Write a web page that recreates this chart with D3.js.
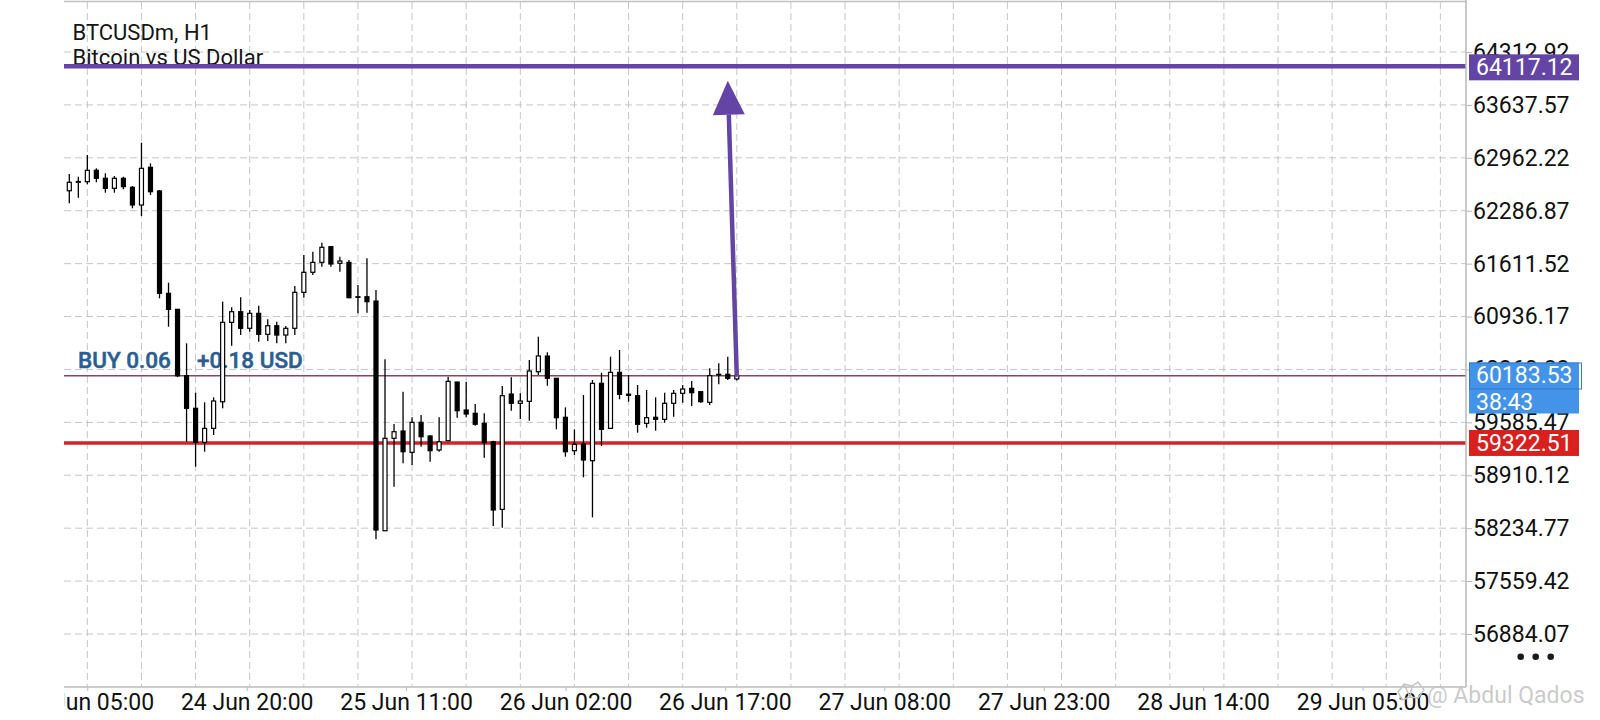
<!DOCTYPE html>
<html>
<head>
    <meta charset="utf-8">
    <title>BTCUSDm, H1</title>
    <script src="https://cdnjs.cloudflare.com/ajax/libs/d3/7.8.5/d3.min.js"></script>
    <style>
        body { margin: 0; background: #fff; }
        svg { display: block; font-family: Roboto, "Noto Sans", sans-serif; }
    </style>
</head>
<body>
    <div id="chart"></div>
    <script>
        // H1 candles, oldest first
        const opens = [62542, 62650, 62657, 62803, 62701, 62573, 62701, 62586, 62360, 62841,
            62539, 61233, 61028, 60181, 59765, 59331, 59509, 59849, 60862, 60998,
            60786, 60977, 60709, 60819, 60700, 60786, 61245, 61501, 61628, 61828,
            61616, 61628, 61189, 61189, 61134, 58202, 59382, 59475, 59203, 59586,
            59411, 59233, 59351, 60100, 59743, 59701, 59573, 59338, 58475, 59947,
            59829, 59854, 60232, 60432, 60148, 59650, 59224, 59309, 59096, 60084,
            59509, 60224, 59945, 59926, 59573, 59650, 59624, 59829, 59956, 60020,
            59977, 59841, 60199, 60199, 60140];
        const highs = [62756, 62721, 62998, 62828, 62765, 62730, 62721, 62602, 63155, 62892,
            62551, 61368, 61035, 60594, 59964, 59841, 59905, 61126, 61054, 61182,
            61020, 61074, 60901, 60870, 60815, 61326, 61722, 61764, 61879, 61837,
            61700, 61658, 61339, 61680, 61275, 60390, 59564, 59977, 59650, 59679,
            59424, 59650, 60168, 60105, 60100, 59820, 59701, 59351, 60050, 60160,
            59956, 60381, 60679, 60480, 60150, 59777, 59497, 59934, 60126, 60219,
            60424, 60509, 60190, 60062, 59998, 59905, 59964, 59998, 60062, 60113,
            59986, 60275, 60339, 60424, 60200];
        const lows = [62381, 62453, 62624, 62650, 62517, 62517, 62560, 62318, 62219, 62488,
            61169, 60806, 60164, 59338, 59019, 59211, 59424, 59765, 60564, 60700,
            60742, 60615, 60624, 60595, 60595, 60700, 61177, 61466, 61572, 61572,
            61508, 61170, 60977, 60985, 58093, 58198, 58764, 59063, 59041, 59275,
            59083, 59211, 59345, 59645, 59650, 59543, 59134, 58262, 58240, 59734,
            59628, 59607, 60190, 60053, 59497, 59147, 59169, 58884, 58373, 59283,
            59500, 59880, 59849, 59453, 59517, 59479, 59581, 59658, 59836, 59794,
            59836, 59807, 60071, 60126, 60120];
        const closes = [62650, 62660, 62803, 62701, 62573, 62701, 62594, 62360, 62828, 62530,
            61233, 61028, 60181, 59765, 59331, 59509, 59858, 60862, 60998, 60786,
            60977, 60709, 60819, 60700, 60786, 61245, 61501, 61628, 61820, 61607,
            61645, 61177, 61185, 61126, 58211, 59382, 59466, 59211, 59586, 59402,
            59224, 59338, 60109, 59734, 59692, 59561, 59326, 58467, 59926, 59829,
            59858, 60241, 60433, 60148, 59645, 59211, 59305, 59105, 60084, 59497,
            60224, 59943, 59930, 59561, 59645, 59624, 59829, 59956, 60011, 59964,
            59849, 60181, 60195, 60148, 60183.53];

        const priceTicks = [64312.92, 63637.57, 62962.22, 62286.87, 61611.52, 60936.17,
            60260.82, 59585.47, 58910.12, 58234.77, 57559.42, 56884.07];
        const timeTicks = ["24 Jun 05:00", "24 Jun 20:00", "25 Jun 11:00", "26 Jun 02:00",
            "26 Jun 17:00", "27 Jun 08:00", "27 Jun 23:00", "28 Jun 14:00", "29 Jun 05:00"];

        const takeProfit = 64117.12;
        const stopLoss = 59322.51;
        const entryPrice = 60180.53;
        const bidPrice = 60183.53;
        const barTimer = "38:43";
        const orderText = "BUY 0.06";
        const profitText = "+0.18 USD";
        const arrowBars = [74, 73];
        const arrowPrices = [60168, 63947];

        const width = 1600, height = 720;
        const left = 64, right = 1466, bottom = 687;
        const purple = "#6445a6", red = "#d8201f", blue = "#4393e8";

        const svg = d3.select("#chart")
            .append("svg")
            .attr("width", width)
            .attr("height", height);

        const y = d3.scaleLinear()
            .domain([d3.min(priceTicks), d3.max(priceTicks)])
            .range([634, 52]);
        const xBar = d3.scaleLinear()
            .domain([0, opens.length - 1])
            .range([69.3, 736.8]);
        const parseTime = d3.timeParse("%d %b %H:%M");
        const tickDates = timeTicks.map(parseTime);
        const xTime = d3.scaleTime()
            .domain(d3.extent(tickDates))
            .range([87.3, 1362.5]);

        svg.append("clipPath").attr("id", "plotclip")
            .append("rect").attr("x", left).attr("y", 0)
            .attr("width", width - left).attr("height", height);

        // grid
        const grid = svg.append("g")
            .attr("stroke", "#c6c6c6")
            .attr("stroke-dasharray", "7,4");
        grid.selectAll("line.h")
            .data(priceTicks)
            .join("line")
            .attr("class", "h")
            .attr("x1", left).attr("x2", right)
            .attr("y1", d => y(d)).attr("y2", d => y(d));
        const gridBars = d3.range(2, xBar.invert(right - 10), 6);
        grid.selectAll("line.v")
            .data(gridBars)
            .join("line")
            .attr("class", "v")
            .attr("x1", d => xBar(d)).attr("x2", d => xBar(d))
            .attr("y1", 2).attr("y2", bottom);

        // symbol title
        svg.append("text")
            .attr("x", 72.5).attr("y", 40)
            .attr("font-size", 22).attr("fill", "#151515")
            .text("BTCUSDm, H1");
        svg.append("text")
            .attr("x", 72.5).attr("y", 65)
            .attr("font-size", 22).attr("fill", "#151515")
            .text("Bitcoin vs US Dollar");

        // order label
        svg.append("text")
            .attr("x", 78).attr("y", y(entryPrice) - 7.5)
            .attr("font-size", 22.5).attr("font-weight", 500).attr("fill", "#2a5e93")
            .attr("stroke", "#2a5e93").attr("stroke-width", 0.5)
            .text(orderText);
        svg.append("text")
            .attr("x", 197).attr("y", y(entryPrice) - 7.5)
            .attr("font-size", 22.5).attr("font-weight", 500).attr("fill", "#2a5e93")
            .attr("stroke", "#2a5e93").attr("stroke-width", 0.5)
            .text(profitText);

        // price levels
        svg.append("line")
            .attr("x1", left).attr("x2", right)
            .attr("y1", y(entryPrice)).attr("y2", y(entryPrice))
            .attr("stroke", "#85485a").attr("stroke-width", 1.6);
        svg.append("line")
            .attr("x1", left).attr("x2", right)
            .attr("y1", y(stopLoss)).attr("y2", y(stopLoss))
            .attr("stroke", "#d0262a").attr("stroke-width", 3.5);
        svg.append("line")
            .attr("x1", left).attr("x2", right)
            .attr("y1", y(takeProfit) - 1).attr("y2", y(takeProfit) - 1)
            .attr("stroke", purple).attr("stroke-width", 4.5);

        // candles
        const candles = d3.range(opens.length).map(i => ({
            i, o: opens[i], h: highs[i], l: lows[i], c: closes[i]
        }));
        const cg = svg.append("g");
        cg.selectAll("line")
            .data(candles)
            .join("line")
            .attr("x1", d => xBar(d.i)).attr("x2", d => xBar(d.i))
            .attr("y1", d => y(d.h)).attr("y2", d => y(d.l))
            .attr("stroke", "#000").attr("stroke-width", 1.3);
        cg.selectAll("rect")
            .data(candles)
            .join("rect")
            .attr("x", d => xBar(d.i) - 2)
            .attr("width", 4)
            .attr("y", d => y(Math.max(d.o, d.c)))
            .attr("height", d => Math.max(0.6, Math.abs(y(d.o) - y(d.c))))
            .attr("fill", d => d.c >= d.o ? "#fff" : "#000")
            .attr("stroke", "#000").attr("stroke-width", 1.2);

        // hand drawn arrow toward target
        const ax0 = xBar(arrowBars[0]), ay0 = y(arrowPrices[0]);
        const ax1 = xBar(arrowBars[1]), ay1 = y(arrowPrices[1]);
        const ang = Math.atan2(ay1 - ay0, ax1 - ax0);
        const headLen = 34, headHalf = 16;
        const bx = ax1 - headLen * Math.cos(ang), by = ay1 - headLen * Math.sin(ang);
        svg.append("line")
            .attr("x1", ax0).attr("y1", ay0).attr("x2", bx).attr("y2", by)
            .attr("stroke", purple).attr("stroke-width", 4.5);
        svg.append("path")
            .attr("d", d3.line()([
                [ax1, ay1],
                [bx + headHalf * Math.sin(ang), by - headHalf * Math.cos(ang)],
                [bx - headHalf * Math.sin(ang), by + headHalf * Math.cos(ang)]
            ]) + "Z")
            .attr("fill", purple);

        // axes
        const yAxis = svg.append("g")
            .attr("transform", `translate(${right},0)`)
            .call(d3.axisRight(y).tickValues(priceTicks).tickFormat(d3.format(".2f"))
                .tickSize(6).tickPadding(1));
        yAxis.select(".domain").remove();
        yAxis.selectAll(".tick line").attr("stroke", "#b8b8b8");
        yAxis.selectAll("text").attr("font-size", 23).attr("fill", "#111")
            .attr("font-family", "Roboto");

        const xAxis = svg.append("g")
            .attr("clip-path", "url(#plotclip)")
            .attr("transform", `translate(0,${bottom})`)
            .call(d3.axisBottom(xTime).tickValues(tickDates).tickFormat(d3.timeFormat("%d %b %H:%M"))
                .tickSize(4).tickPadding(3));
        xAxis.select(".domain").remove();
        xAxis.selectAll(".tick line").attr("stroke", "#b8b8b8");
        xAxis.selectAll("text").attr("font-size", 23).attr("fill", "#111")
            .attr("font-family", "Roboto");

        // frame
        svg.append("line").attr("x1", left).attr("x2", right).attr("y1", 1.5).attr("y2", 1.5)
            .attr("stroke", "#c0c0c0").attr("stroke-width", 1.5);
        svg.append("line").attr("x1", left).attr("x2", right).attr("y1", bottom).attr("y2", bottom)
            .attr("stroke", "#bdbdbd").attr("stroke-width", 1.6);
        svg.append("line").attr("x1", right).attr("x2", right).attr("y1", 0).attr("y2", bottom)
            .attr("stroke", "#bdbdbd").attr("stroke-width", 1.6);

        // price tags on the scale
        const tags = [
            { price: takeProfit, color: purple },
            { price: stopLoss, color: red }
        ];
        tags.forEach(t => {
            svg.append("rect")
                .attr("x", 1469).attr("y", y(t.price) - 13)
                .attr("width", 110).attr("height", 26)
                .attr("fill", t.color);
            svg.append("text")
                .attr("x", 1476).attr("y", y(t.price))
                .attr("dy", "0.35em")
                .attr("font-size", 23).attr("fill", "#fff")
                .text(d3.format(".2f")(t.price));
        });
        const by0 = y(bidPrice) - 13;
        svg.append("rect")
            .attr("x", 1469).attr("y", by0)
            .attr("width", 110).attr("height", 51)
            .attr("fill", blue);
        svg.append("rect")
            .attr("x", 1469.5).attr("y", by0 + 0.5)
            .attr("width", 112).attr("height", 26)
            .attr("fill", "none").attr("stroke", "#2f7bd3").attr("stroke-width", 1);
        svg.append("text")
            .attr("x", 1476).attr("y", by0 + 20.5)
            .attr("font-size", 23).attr("fill", "#fff")
            .text(d3.format(".2f")(bidPrice));
        svg.append("text")
            .attr("x", 1476).attr("y", by0 + 47)
            .attr("font-size", 23).attr("fill", "#fff")
            .text(barTimer);

        // menu dots
        svg.selectAll("circle.dot")
            .data([0, 1, 2])
            .join("circle")
            .attr("class", "dot")
            .attr("cx", d => 1520.7 + d * 15).attr("cy", 656.7).attr("r", 3.3)
            .attr("fill", "#1a1a1a");

        // watermark
        svg.append("path")
            .attr("d", "M1402,700 L1398,692 L1404,684 L1412,686 L1418,682 L1424,690 L1418,698 L1410,697 Z M1404,684 L1410,697 M1412,686 L1410,697")
            .attr("fill", "none").attr("stroke", "#c4c4c4").attr("stroke-width", 1.5);
        svg.append("text")
            .attr("x", 1427).attr("y", 703)
            .attr("font-size", 23).attr("fill", "#c4c4c4").attr("fill-opacity", 0.9)
            .text("@ Abdul Qados");
    </script>
</body>
</html>
